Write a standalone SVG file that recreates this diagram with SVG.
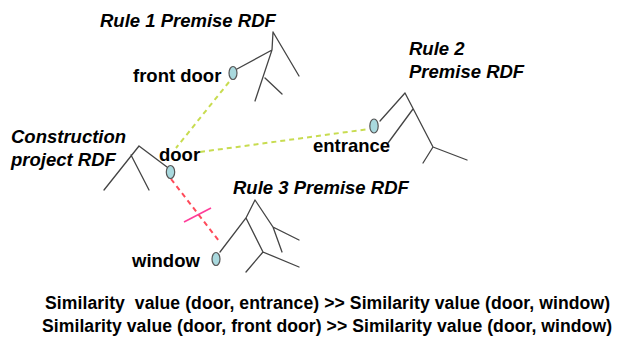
<svg xmlns="http://www.w3.org/2000/svg" width="624" height="340" viewBox="0 0 624 340">
<style>
.t{font-family:"Liberation Sans",Arial,sans-serif;font-weight:bold;fill:#000}
.title{font-size:18.5px;font-style:italic}
.lab{font-size:18.5px}
.bot{font-size:17.6px}
.tree{stroke:#444;stroke-width:1.3;fill:none;stroke-linecap:round}
.node{fill:#a9d9de;stroke:#555;stroke-width:1.2}
.sim{stroke:#c8dc50;stroke-width:2;stroke-dasharray:5,4;fill:none}
.dis{stroke:#ff4a5a;stroke-width:2;stroke-dasharray:5,4;fill:none}
.tick{stroke:#ff3d9a;stroke-width:1.6}
</style>
<rect width="624" height="340" fill="#fff"/>
<g id="connectors">
<line class="sim" x1="229" y1="82" x2="176" y2="148"/>
<line class="sim" x1="200" y1="152" x2="369" y2="129"/>
<line class="dis" x1="171" y1="179" x2="219" y2="241"/>
<line class="tick" x1="184" y1="222" x2="211" y2="208"/>
</g>
<g id="rule1">
<text class="t title" x="100" y="27">Rule 1 Premise RDF</text>
<path class="tree" d="M273 32 L272 50 L255 101 M273 32 L299 76 M272 50 L237 69 M265 78 L282 94"/>
<ellipse class="node" cx="233" cy="73" rx="4" ry="6.5"/>
<text class="t lab" x="133" y="82">front door</text>
</g>
<g id="construction">
<text class="t title" x="11" y="143">Construction</text>
<text class="t title" x="11" y="166">project RDF</text>
<path class="tree" d="M139 146 L104 190 M139 146 L167 167 M131 155 L149 190"/>
<ellipse class="node" cx="170.5" cy="172" rx="4.2" ry="6.5"/>
<text class="t lab" x="159" y="161">door</text>
</g>
<g id="rule2">
<text class="t title" x="409" y="55">Rule 2</text>
<text class="t title" x="409" y="78">Premise RDF</text>
<path class="tree" d="M405 93 L380 121 M405 93 L433 147 M413 109 L388 143 M433 147 L467 160 M433 147 L423 163"/>
<ellipse class="node" cx="374" cy="126" rx="4.2" ry="7"/>
<text class="t lab" x="313" y="152">entrance</text>
</g>
<g id="rule3">
<text class="t title" x="233" y="194">Rule 3 Premise RDF</text>
<path class="tree" d="M255 200 L246 218 L220 252 M255 200 L273 227 L299 240 M273 227 L282 252 M246 218 L263 252 L299 267 M263 252 L246 272"/>
<ellipse class="node" cx="216" cy="259" rx="4" ry="6.5"/>
<text class="t lab" x="132" y="267">window</text>
</g>
<g id="caption">
<text class="t bot" x="45" y="309" xml:space="preserve" textLength="565" lengthAdjust="spacing">Similarity  value (door, entrance) &gt;&gt; Similarity value (door, window)</text>
<text class="t bot" x="42" y="332" textLength="570" lengthAdjust="spacing">Similarity value (door, front door) &gt;&gt; Similarity value (door, window)</text>
</g>
</svg>
